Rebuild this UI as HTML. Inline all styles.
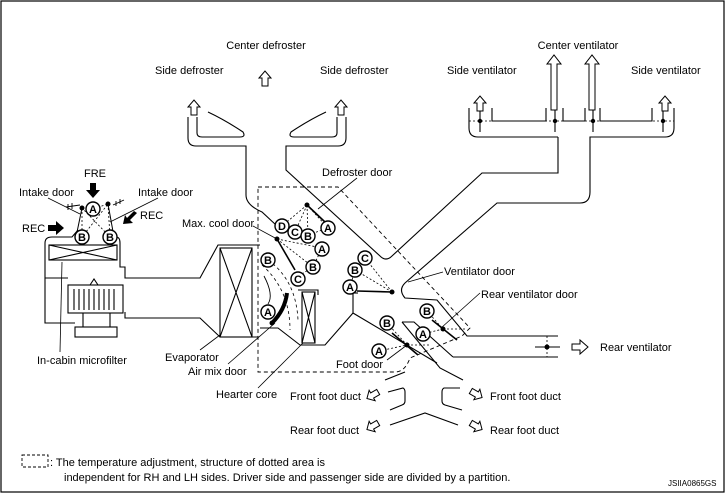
<!DOCTYPE html>
<html><head><meta charset="utf-8"><style>
html,body{margin:0;padding:0;background:#fff;}
svg{display:block;font-family:"Liberation Sans",sans-serif;}
</style></head><body>
<svg width="726" height="494" viewBox="0 0 726 494" xmlns="http://www.w3.org/2000/svg">
<defs>
<g id="cA"><circle r="7" fill="#fff" stroke="#000" stroke-width="1.4"/><text y="4" text-anchor="middle" font-size="11" font-weight="bold">A</text></g>
<g id="cB"><circle r="7" fill="#fff" stroke="#000" stroke-width="1.4"/><text y="4" text-anchor="middle" font-size="11" font-weight="bold">B</text></g>
<g id="cC"><circle r="7" fill="#fff" stroke="#000" stroke-width="1.4"/><text y="4" text-anchor="middle" font-size="11" font-weight="bold">C</text></g>
<g id="cD"><circle r="7" fill="#fff" stroke="#000" stroke-width="1.4"/><text y="4" text-anchor="middle" font-size="11" font-weight="bold">D</text></g>
<path id="upArrow" d="M-3,8 V0 H-6 L0,-7 L6,0 H3 V8 Z" fill="#fff" stroke="#000" stroke-width="1"/>
</defs>
<rect x="1" y="1" width="723" height="491" fill="none" stroke="#000" stroke-width="1.2"/>
<g fill="none" stroke="#000" stroke-width="1.1">
<!-- defroster -->
<path d="M188,117 V138 Q188,146 196,146 H246 V195 Q246,205 262,212 L276,225"/>
<path d="M197,117 V133 Q197,137 202,137 H240 Q246,137 243,132 Q225,120 208,112"/>
<path d="M346,117 V138 Q346,146 338,146 H286 V170 L380,256 Q386,262 392,256 L482,173 H558 V137"/>
<path d="M337,117 V133 Q337,137 332,137 H294 Q288,137 291,132 Q309,120 326,112"/>
<!-- ventilator manifold -->
<path d="M469,108 V128 Q469,137 478,137 H558"/>
<path d="M674,108 V128 Q674,137 665,137 H590 V192 Q590,203 580,203 H497 L405,283 Q398,290 405,298 L437,300 L467,336 H558"/>
<path d="M492,108 V121 H546 V108 M563,108 V121 H585 V108 M600,108 V121 H652 V108"/>
<path d="M480,110 V132 M555,110 V132 M593,110 V132 M663,110 V132"/>
<path d="M469,121 H674" stroke-dasharray="2,2" stroke-width="0.8"/>
<!-- rear vent -->
<path d="M453,357 H558"/>
<path d="M547,336 V357" stroke-dasharray="2,2" stroke-width="0.8"/>
<path d="M535,347 H560"/>
<!-- separators -->
<path d="M402,322 H414 L453,357"/>
<path d="M402,322 L440,368 L463,380"/>
<path d="M353,293 V313 L437,363"/>
<path d="M353,313 L325,345 H300 L278,328 H260"/>
<path d="M353,293 H358"/>
<!-- foot outlets -->
<path d="M385,380 L405,372"/>
<path d="M388,392 L403,388 Q405,389 405,392 V401 Q405,404 402,405 L390,410"/>
<path d="M460,388 L444,388 Q442,389 442,392 V401 Q442,404 445,405 L462,410"/>
<path d="M390,425 L425,413 L458,425"/>
<!-- intake housing -->
<path d="M45,243 Q45,237 52,237 H72 L78,230"/>
<path d="M108,230 L116,237 Q120,237 120,243 V267 H125 V278 H200 L218,245 H260"/>
<path d="M45,243 V323 H75"/>
<path d="M45,278 H68"/>
<path d="M125,312 V318 H200 L220,337 H258"/>
<rect x="49" y="245" width="68" height="15"/>
<path d="M49,245 L117,260 M49,260 L117,245"/>
<rect x="68" y="285" width="55" height="28"/>
<path d="M74,289 V310 M79,289 V310 M84,289 V310 M89,289 V310 M94,289 V310 M99,289 V310 M104,289 V310 M109,289 V310 M114,289 V310"/>
<path d="M90,285 L94,279 L98,285"/>
<path d="M83,313 V327 M110,313 V327"/>
<rect x="75" y="327" width="42" height="10"/>
<!-- evaporator -->
<rect x="220" y="248" width="32" height="89"/>
<path d="M220,248 L252,337 M252,248 L220,337"/>
<!-- heater core -->
<rect x="302" y="292" width="13" height="51"/>
<path d="M302,292 L315,343 M315,292 L302,343"/>
<path d="M298,290 H318 V295"/>
<!-- dashed area -->
<path d="M258,187 H338 L470,328 L462,336 L410,358 Q405,372 395,372 H258 Z" stroke-dasharray="4,3" stroke-width="0.9"/>
<path d="M262,265 Q290,290 290,330" stroke-dasharray="3,3" stroke-width="0.8"/>
<path d="M268,260 Q296,280 298,320" stroke-dasharray="3,3" stroke-width="0.8"/>
<!-- door lines dotted -->
<g stroke-dasharray="2,2" stroke-width="0.8">
<path d="M307,205 L282,226 M307,205 L295,232 M307,205 L308,235 M307,205 L328,228"/>
<path d="M277,239 L322,248 M277,239 L313,267 M282,226 L308,235 L328,228"/>
<path d="M322,248 L313,267 L297,277"/>
<path d="M82,208 L82,237 L108,204 M108,204 L110,237 L82,208 M82,208 L93,209 L108,204"/>
<path d="M392,292 L365,258 M392,292 L355,270 L365,258 M355,270 L350,287"/>
<path d="M387,323 L407,345 L379,351 M407,345 H430"/>
<path d="M427,311 L443,329 L423,334 M443,329 H465"/>
</g>
<!-- doors -->
<path d="M307,205 L325,222" stroke-width="1.6"/>
<path d="M277,239 L295,270" stroke-width="1.6"/>
<path d="M287,293 Q285,310 272,323" stroke-width="4"/>
<path d="M357,291 L392,292" stroke-width="1.6"/>
<path d="M392,333 L418,355" stroke-width="1.6"/>
<path d="M432,320 L457,340" stroke-width="1.6"/>
<path d="M82,208 L76,237 M108,204 L114,237" stroke-width="1"/>
<path d="M264,276 Q274,295 268,304" stroke-width="0.9"/>
<!-- intake small symbols -->
<path d="M66,207 L80,205 M68,204 V210 M72,203 V209 M113,205 L124,200 M116,201 V206 M120,199 V204" stroke-width="0.9"/>
<!-- leaders -->
<g stroke-width="0.8">
<path d="M48,198 L80,214 M158,198 L110,222"/>
<path d="M253,226 L277,239"/>
<path d="M357,178 L318,209"/>
<path d="M443,272 L408,282"/>
<path d="M480,293 L441,328"/>
<path d="M387,360 L407,345"/>
<path d="M60,352 L62,262"/>
<path d="M200,350 L220,335"/>
<path d="M228,364 L275,323"/>
<path d="M258,388 L303,343"/>
</g>
</g>
<!-- dots -->
<g fill="#000">
<circle cx="307" cy="205" r="2.5"/><circle cx="277" cy="239" r="2.5"/><circle cx="272" cy="323" r="2.5"/>
<circle cx="392" cy="292" r="2.5"/><circle cx="407" cy="345" r="2.5"/><circle cx="443" cy="329" r="2.5"/>
<circle cx="82" cy="208" r="2.5"/><circle cx="108" cy="204" r="2.5"/>
<circle cx="480" cy="121" r="2.2"/><circle cx="555" cy="121" r="2.2"/><circle cx="593" cy="121" r="2.2"/><circle cx="663" cy="121" r="2.2"/>
<circle cx="547" cy="347" r="2.5"/>
</g>
<!-- arrows -->
<use href="#upArrow" x="265" y="78"/>
<use href="#upArrow" x="194" y="107"/>
<use href="#upArrow" x="341" y="107"/>
<use href="#upArrow" x="480" y="103"/>
<use href="#upArrow" x="665" y="103"/>
<path d="M551,110 V64 H547 L554,55 L561,64 H557 V110 Z" fill="#fff" stroke="#000"/>
<path d="M589,110 V64 H585 L592,55 L599,64 H595 V110 Z" fill="#fff" stroke="#000"/>
<path d="M572,344 H580 V340 L588,347 L580,354 V350 H572 Z" fill="#fff" stroke="#000"/>
<g fill="#fff" stroke="#000"><path transform="translate(373,395) rotate(150)" d="M-6,-3 H1 V-6 L7,0 L1,6 V3 H-6 Z"/>
<path transform="translate(373,426) rotate(150)" d="M-6,-3 H1 V-6 L7,0 L1,6 V3 H-6 Z"/>
<path transform="translate(476,394) rotate(30)" d="M-6,-3 H1 V-6 L7,0 L1,6 V3 H-6 Z"/>
<path transform="translate(476,426) rotate(30)" d="M-6,-3 H1 V-6 L7,0 L1,6 V3 H-6 Z"/></g>
<g fill="#000"><path d="M90,183 H96 V190 H100 L93,198 L86,190 H90 Z"/>
<path d="M48,225 H56 V221 L64,228 L56,235 V231 H48 Z"/>
<path d="M137,213 L130,220 L133,223 L123,224 L125,215 L127,218 L134,211 Z"/></g>
<!-- circles -->
<use href="#cA" x="93" y="209"/><use href="#cB" x="82" y="237"/><use href="#cB" x="110" y="237"/>
<use href="#cD" x="282" y="226"/><use href="#cC" x="295" y="232"/><use href="#cB" x="308" y="236"/><use href="#cA" x="328" y="228"/>
<use href="#cA" x="322" y="249"/><use href="#cB" x="313" y="267"/><use href="#cC" x="298" y="279"/>
<use href="#cB" x="268" y="260"/><use href="#cA" x="268" y="312"/>
<use href="#cC" x="365" y="258"/><use href="#cB" x="355" y="270"/><use href="#cA" x="350" y="287"/>
<use href="#cB" x="427" y="311"/><use href="#cA" x="423" y="334"/><use href="#cB" x="387" y="323"/><use href="#cA" x="379" y="351"/>
<!-- texts -->
<g font-size="11" fill="#000">
<text x="266" y="49" text-anchor="middle">Center defroster</text>
<text x="155" y="74">Side defroster</text>
<text x="320" y="74">Side defroster</text>
<text x="578" y="49" text-anchor="middle">Center ventilator</text>
<text x="447" y="74">Side ventilator</text>
<text x="631" y="74">Side ventilator</text>
<text x="84" y="177">FRE</text>
<text x="19" y="196">Intake door</text>
<text x="138" y="196">Intake door</text>
<text x="22" y="232">REC</text>
<text x="140" y="219">REC</text>
<text x="182" y="227">Max. cool door</text>
<text x="322" y="176">Defroster door</text>
<text x="444" y="275">Ventilator door</text>
<text x="481" y="298">Rear ventilator door</text>
<text x="600" y="351">Rear ventilator</text>
<text x="336" y="368">Foot door</text>
<text x="37" y="364">In-cabin microfilter</text>
<text x="165" y="361">Evaporator</text>
<text x="188" y="375">Air mix door</text>
<text x="216" y="398">Hearter core</text>
<text x="290" y="400">Front foot duct</text>
<text x="490" y="400">Front foot duct</text>
<text x="290" y="434">Rear foot duct</text>
<text x="490" y="434">Rear foot duct</text>
<text x="50" y="466">: The temperature adjustment, structure of dotted area is</text>
<text x="64" y="481">independent for RH and LH sides. Driver side and passenger side are divided by a partition.</text>
</g>
<rect x="22" y="455" width="26" height="12" fill="none" stroke="#000" stroke-width="0.9" stroke-dasharray="3,2"/>
<text x="668" y="486" font-size="8" fill="#000">JSIIA0865GS</text>
</svg>
</body></html>
